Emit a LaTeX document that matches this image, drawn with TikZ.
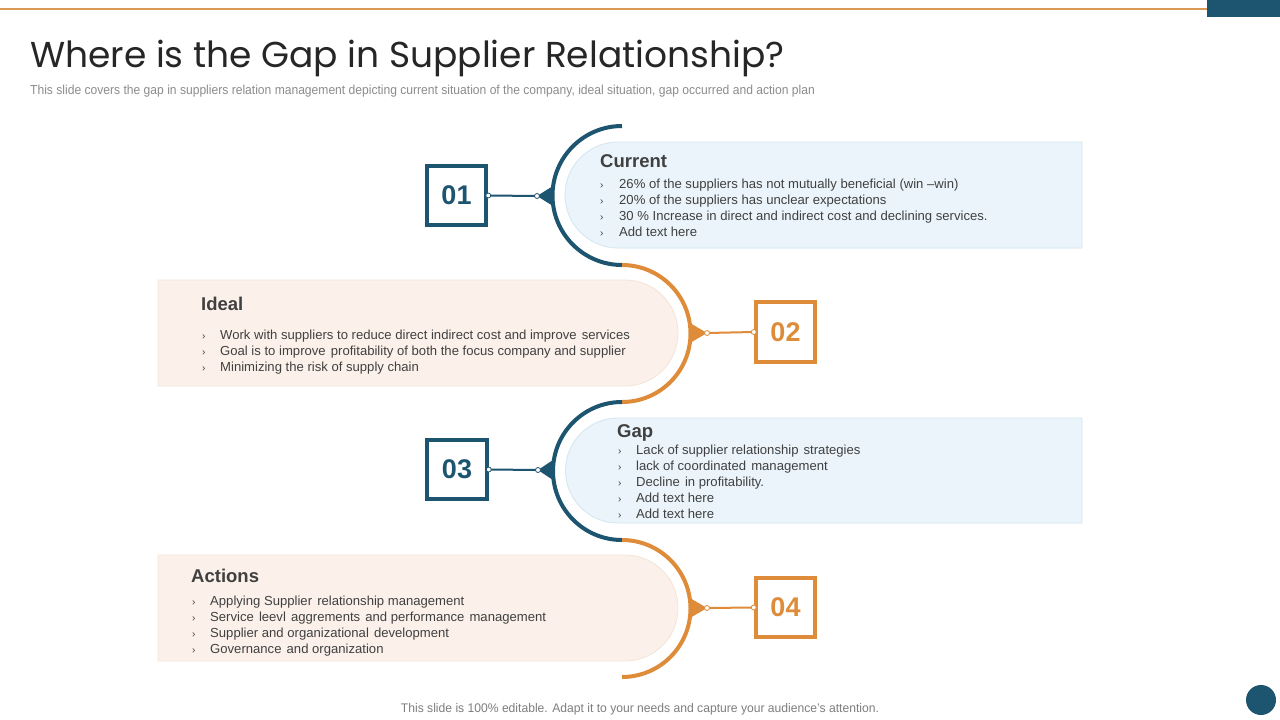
\documentclass[tikz,border=0pt]{standalone}
\usepackage{fontspec}
\usepackage{graphicx}
\setmainfont{Liberation Sans}
\newfontfamily\titlefont{Poppins}
\newcommand\wsp{\ \hspace{1.5pt}}
\definecolor{teal}{HTML}{1D5470}
\definecolor{orng}{HTML}{DE8C3A}
\definecolor{bluefill}{HTML}{EAF4FA}
\definecolor{blueline}{HTML}{D3E6F1}
\definecolor{peachfill}{HTML}{FBF1EA}
\definecolor{peachline}{HTML}{F4E4D8}
\definecolor{txt}{HTML}{404040}
\definecolor{subgray}{HTML}{8C8C8C}
\definecolor{topline}{HTML}{D89A55}
\tikzset{
  x=1pt, y=1pt,
  numbox/.style={draw, line width=4pt, minimum size=59.5pt, inner sep=0pt, fill=white,
    font=\fontsize{27}{27}\selectfont\bfseries},
  arcline/.style={line width=4pt},
  bluepanel/.style={fill=bluefill, draw=blueline, line width=0.8pt},
  peachpanel/.style={fill=peachfill, draw=peachline, line width=0.8pt},
  ptitle/.style={anchor=base west, inner sep=0pt, text=txt, font=\fontsize{18.5}{20}\selectfont\bfseries},
  pline/.style={anchor=base west, inner sep=0pt, text=txt, font=\fontsize{13.1}{16}\selectfont},
  pbul/.style={anchor=base west, inner sep=0pt, text=txt, font=\fontsize{10}{16}\selectfont},
  dot/.style={circle, fill=white, draw, line width=0.8pt, minimum size=5pt, inner sep=0pt},
}
\begin{document}
\begin{tikzpicture}
\useasboundingbox (0,0) rectangle (1280,-720);
\fill[white] (0,0) rectangle (1280,-720);
% top decoration
\draw[topline, line width=1.3pt] (0,-9) -- (1207,-9);
\fill[teal] (1207,0) rectangle (1280,-17);
% title and subtitle
\node (title) [anchor=base west, inner sep=0pt, text=black!85, font=\titlefont\fontsize{36}{40}\selectfont] at (30,-67) {Where is the Gap in Supplier Relationship?};
\node (sub) [anchor=base west, inner sep=0pt, text=subgray, font=\fontsize{13}{14}\selectfont] at (30,-94) {\scalebox{0.93}[1]{This slide covers the gap in suppliers relation management depicting current situation of the company, ideal situation, gap occurred and action plan}};

% panels
\path[bluepanel] (1082,-142) -- (618,-142) arc[start angle=90, end angle=270, radius=53] -- (1082,-248) -- cycle;
\path[peachpanel] (158,-280) -- (625,-280) arc[start angle=90, end angle=-90, radius=53] -- (158,-386) -- cycle;
\path[bluepanel] (1082,-418) -- (618,-418) arc[start angle=90, end angle=270, radius=52.5] -- (1082,-523) -- cycle;
\path[peachpanel] (158,-555) -- (625,-555) arc[start angle=90, end angle=-90, radius=53] -- (158,-661) -- cycle;

% arcs
\draw[arcline, teal] (622,-126) arc[start angle=90, end angle=270, radius=69.5];
\draw[arcline, orng] (622,-265) arc[start angle=90, end angle=-90, radius=68.5];
\draw[arcline, teal] (622,-402) arc[start angle=90, end angle=270, radius=69];
\draw[arcline, orng] (622,-540) arc[start angle=90, end angle=-90, radius=68.5];

% number boxes
\node (b1) [numbox, draw=teal, text=teal] at (456.5,-195.5) {01};
\node (b2) [numbox, draw=orng, text=orng] at (785.5,-332) {02};
\node (b3) [numbox, draw=teal, text=teal] at (457,-469.5) {03};
\node (b4) [numbox, draw=orng, text=orng] at (785.5,-607.5) {04};

% connector tips
\coordinate (t1) at (537,-196);
\coordinate (t2) at (707,-333);
\coordinate (t3) at (538,-470);
\coordinate (t4) at (707,-608);
\fill[teal] (553,-186) -- (t1) -- (553,-206) -- cycle;
\fill[orng] (690,-323) -- (t2) -- (690,-343) -- cycle;
\fill[teal] (553,-460) -- (t3) -- (553,-480) -- cycle;
\fill[orng] (690,-598) -- (t4) -- (690,-618) -- cycle;
\draw[teal, line width=2pt] (b1.east) -- (t1);
\draw[orng, line width=2pt] (b2.west) -- (t2);
\draw[teal, line width=2pt] (b3.east) -- (t3);
\draw[orng, line width=2pt] (b4.west) -- (t4);
\node (d1a) [dot, draw=teal] at (t1) {};
\node (d1b) [dot, draw=teal] at (b1.east) {};
\node (d2a) [dot, draw=orng] at (t2) {};
\node (d2b) [dot, draw=orng] at (b2.west) {};
\node (d3a) [dot, draw=teal] at (t3) {};
\node (d3b) [dot, draw=teal] at (b3.east) {};
\node (d4a) [dot, draw=orng] at (t4) {};
\node (d4b) [dot, draw=orng] at (b4.west) {};

% Current
\node (h1) [ptitle] at (600,-167) {Current};
\foreach \t [count=\i] in {{26\% of the suppliers has not mutually beneficial (win \textendash win)},
  {20\% of the suppliers has unclear expectations},
  {30 \% Increase in direct and indirect cost and declining services.},
  {Add text here}} {
  \node (cb\i) [pbul] at (600,-188.5-16*\i+16) {›};
  \node (ct\i) [pline] at (619,-188.5-16*\i+16) {\t};
}
% Ideal
\node (h2) [ptitle] at (201,-310) {Ideal};
\foreach \t [count=\i] in {{Work with suppliers to reduce direct indirect cost and improve\wsp services},
  {Goal is to improve\wsp profitability of both the focus company and supplier},
  {Minimizing the risk of supply chain}} {
  \node (ib\i) [pbul] at (202,-339.5-16*\i+16) {›};
  \node (it\i) [pline] at (220,-339.5-16*\i+16) {\t};
}
% Gap
\node (h3) [ptitle] at (617,-437) {Gap};
\foreach \t [count=\i] in {{Lack of supplier relationship\wsp strategies},
  {lack of coordinated\wsp management},
  {Decline\wsp in profitability.},
  {Add text here},
  {Add text here}} {
  \node (gb\i) [pbul] at (618,-454.5-16*\i+16) {›};
  \node (gt\i) [pline] at (636,-454.5-16*\i+16) {\t};
}
% Actions
\node (h4) [ptitle] at (191,-582) {Actions};
\foreach \t [count=\i] in {{Applying Supplier\wsp relationship management},
  {Service\wsp leevl\wsp aggrements\wsp and performance\wsp management},
  {Supplier and organizational\wsp development},
  {Governance\wsp and organization}} {
  \node (ab\i) [pbul] at (192,-605.5-16*\i+16) {›};
  \node (at\i) [pline] at (210,-605.5-16*\i+16) {\t};
}

% footer
\node (foot) [anchor=base, inner sep=0pt, text=subgray!90!black, font=\fontsize{12.5}{14}\selectfont] at (640,-712) {\scalebox{0.97}[1]{This slide is 100\% editable. Adapt it to your needs and capture your audience's attention.}};
\node (corner) [circle, fill=teal, minimum size=30pt, inner sep=0pt] at (1261,-700) {};
\end{tikzpicture}
\end{document}
